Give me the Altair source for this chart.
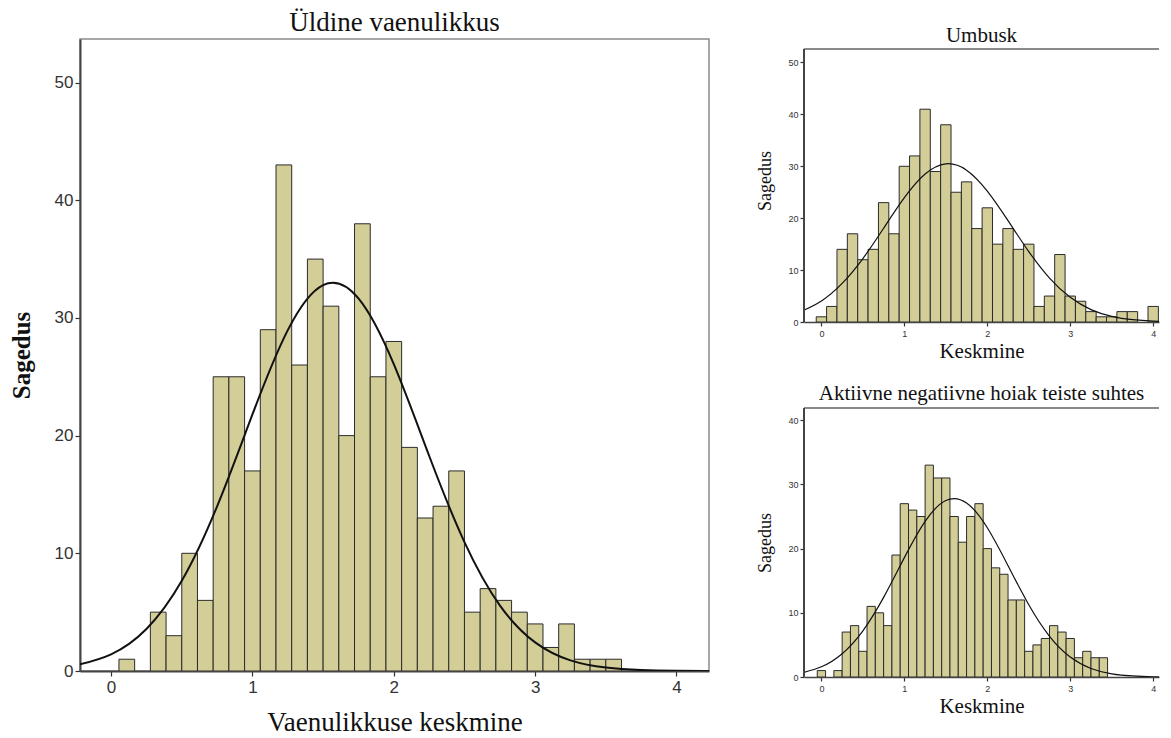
import altair as alt
import pandas as pd

# ---------------- data ----------------
curve_x = [-0.25, 0.0, 0.25, 0.5, 0.75, 1.0, 1.25, 1.5, 1.75, 2.0, 2.25,
           2.5, 2.75, 3.0, 3.25, 3.5, 3.75, 4.0, 4.25]
x_ticks = [0, 1, 2, 3, 4]

# Left: Üldine vaenulikkus
main_title = "Üldine vaenulikkus"
main_xtitle = "Vaenulikkuse keskmine"
main_ytitle = "Sagedus"
main_bin_width = 1 / 9
main_first_center = 1 / 9
main_counts = [1, 0, 5, 3, 10, 6, 25, 25, 17, 29, 43, 26, 35, 31, 20, 38, 25,
               28, 19, 13, 14, 17, 5, 7, 6, 5, 4, 2, 4, 1, 1, 1]
main_curve = [0.48, 1.42, 3.57, 7.66, 13.99, 21.8, 28.96, 32.79, 31.66, 26.07,
              18.29, 10.95, 5.58, 2.43, 0.90, 0.29, 0.08, 0.02, 0.0]
main_y_ticks = [0, 10, 20, 30, 40, 50]

# Top right: Umbusk
umb_title = "Umbusk"
umb_bin_width = 1 / 8
umb_first_center = 0.0
umb_counts = [1, 3, 14, 17, 12, 14, 23, 17, 30, 32, 41, 29, 38, 25, 27, 18, 22,
              15, 18, 14, 15, 3, 5, 13, 5, 4, 2, 1, 1, 2, 2, 0, 3]
umb_curve = [1.99, 4.06, 7.44, 12.23, 18.06, 23.95, 28.51, 30.48, 29.26, 25.22,
             19.52, 13.57, 8.47, 4.75, 2.39, 1.08, 0.44, 0.16, 0.05]
umb_y_ticks = [0, 10, 20, 30, 40, 50]

# Bottom right: Aktiivne negatiivne hoiak teiste suhtes
akt_title = "Aktiivne negatiivne hoiak teiste suhtes"
akt_bin_width = 0.1
akt_first_center = 0.0
akt_counts = [1, 0, 1, 7, 8, 4, 11, 10, 8, 19, 27, 26, 25, 33, 31, 31, 25, 21,
              25, 27, 20, 17, 16, 12, 12, 4, 5, 6, 8, 7, 6, 3, 4, 3, 3]
akt_curve = [0.61, 1.59, 3.63, 7.20, 12.40, 18.59, 24.24, 27.49, 27.11, 23.25,
             17.34, 11.25, 6.34, 3.11, 1.33, 0.49, 0.16, 0.04, 0.01]
akt_y_ticks = [0, 10, 20, 30, 40]

small_xtitle = "Keskmine"
small_ytitle = "Sagedus"

FILL = "#d3ce97"
BAR_STROKE = "#2b2b2b"
SERIF = "Liberation Serif"
SANS = "Liberation Sans"


def bins_frame(counts, bw, first):
    starts = [first + i * bw - bw / 2 for i in range(len(counts))]
    df = pd.DataFrame({"start": starts,
                       "end": [s + bw for s in starts],
                       "count": counts})
    return df[df["count"] > 0]


def axes(big, xtitle, ytitle, y_ticks):
    if big:
        lab, tick, dom_w, xt, yt, xtp, ytp, ywt = 17, 5, 2, 27, 25, 14, 20, "bold"
    else:
        lab, tick, dom_w, xt, yt, xtp, ytp, ywt = 9, 4, 1.5, 21, 18, 2, 13, "normal"
    x_axis = alt.Axis(values=x_ticks, format="d", grid=False,
                      labelFont=SANS, labelFontSize=lab, labelColor="#333",
                      labelPadding=3, tickSize=tick, tickColor="#333",
                      tickWidth=1.2, domainColor="#444", domainWidth=dom_w,
                      title=xtitle, titleFont=SERIF, titleFontSize=xt,
                      titleFontWeight="normal", titleColor="#111",
                      titlePadding=xtp)
    y_axis = alt.Axis(values=y_ticks, format="d", grid=False,
                      labelFont=SANS, labelFontSize=lab, labelColor="#333",
                      labelPadding=2, tickSize=tick, tickColor="#333",
                      tickWidth=1.2, domain=big, domainColor="#444",
                      domainWidth=dom_w,
                      title=ytitle, titleFont=SERIF, titleFontSize=yt,
                      titleFontWeight=ywt, titleColor="#111",
                      titlePadding=ytp)
    return x_axis, y_axis


def panel(counts, bw, first, curve, title, xtitle, ytitle, width, height,
          x_domain, y_frame_top, y_ticks, big, extra_top=0, title_offset=3):
    df = bins_frame(counts, bw, first)
    cdf = pd.DataFrame({"x": curve_x, "y": curve})
    x_axis, y_axis = axes(big, xtitle, ytitle, y_ticks)
    # plot area taller by extra_top px above the frame line
    y_max = y_frame_top * (height + extra_top) / height
    xs = alt.Scale(domain=x_domain, nice=False, zero=False)
    ys = alt.Scale(domain=[0, y_max], nice=False)
    bars = alt.Chart(df).mark_rect(
        fill=FILL, stroke=BAR_STROKE, strokeWidth=1, clip=True
    ).encode(
        x=alt.X("start:Q", scale=xs, axis=x_axis),
        x2="end:Q",
        y=alt.Y("count:Q", scale=ys, axis=y_axis),
        y2=alt.datum(0),
    )
    line = alt.Chart(cdf).mark_line(
        color="#111", strokeWidth=2 if big else 1.2, interpolate="natural",
        clip=True
    ).encode(
        x=alt.X("x:Q", scale=xs, axis=x_axis),
        y=alt.Y("y:Q", scale=ys, axis=y_axis),
    )
    layers = [bars, line]
    if big:
        ttl = alt.TitleParams(text=title, font=SERIF, fontSize=27,
                              fontWeight="normal", color="#111", offset=2)
        view = alt.ViewBackground(stroke="#8a8a8a", strokeWidth=1.5)
    else:
        ttl = alt.TitleParams(text=title, font=SERIF, fontSize=21,
                              fontWeight="normal", color="#111",
                              offset=title_offset)
        view = alt.ViewBackground(stroke="transparent")
        frame_top = alt.Chart(cdf).mark_rule(
            color="#8a8a8a", strokeWidth=1.5
        ).encode(
            x=alt.datum(x_domain[0]), x2=alt.datum(x_domain[1]),
            y=alt.datum(y_frame_top),
        )
        frame_left = alt.Chart(cdf).mark_rule(
            color="#444", strokeWidth=1.5
        ).encode(
            x=alt.datum(x_domain[0]),
            y=alt.datum(0), y2=alt.datum(y_frame_top),
        )
        layers += [frame_top, frame_left]
    return alt.layer(*layers).properties(
        width=width, height=height + extra_top, title=ttl, view=view)


left = panel(main_counts, main_bin_width, main_first_center, main_curve,
             main_title, main_xtitle, main_ytitle, 629, 632,
             [-0.22, 4.23], 53.7, main_y_ticks, True)

top_right = panel(umb_counts, umb_bin_width, umb_first_center, umb_curve,
                  umb_title, small_xtitle, small_ytitle, 355, 273,
                  [-0.21, 4.07], 52.6, umb_y_ticks, False,
                  extra_top=10, title_offset=-7)

bottom_right = panel(akt_counts, akt_bin_width, akt_first_center, akt_curve,
                     akt_title, small_xtitle, small_ytitle, 355, 269,
                     [-0.21, 4.07], 41.9, akt_y_ticks, False)

right = alt.vconcat(top_right, bottom_right, spacing=20)

chart = alt.hconcat(left, right, spacing=46).properties(
    padding={"left": 0, "top": 0, "right": 0, "bottom": 0}
).configure(background="white").configure_view(stroke="transparent")

chart.save("out.html", embed_options={"renderer": "svg", "actions": False})
